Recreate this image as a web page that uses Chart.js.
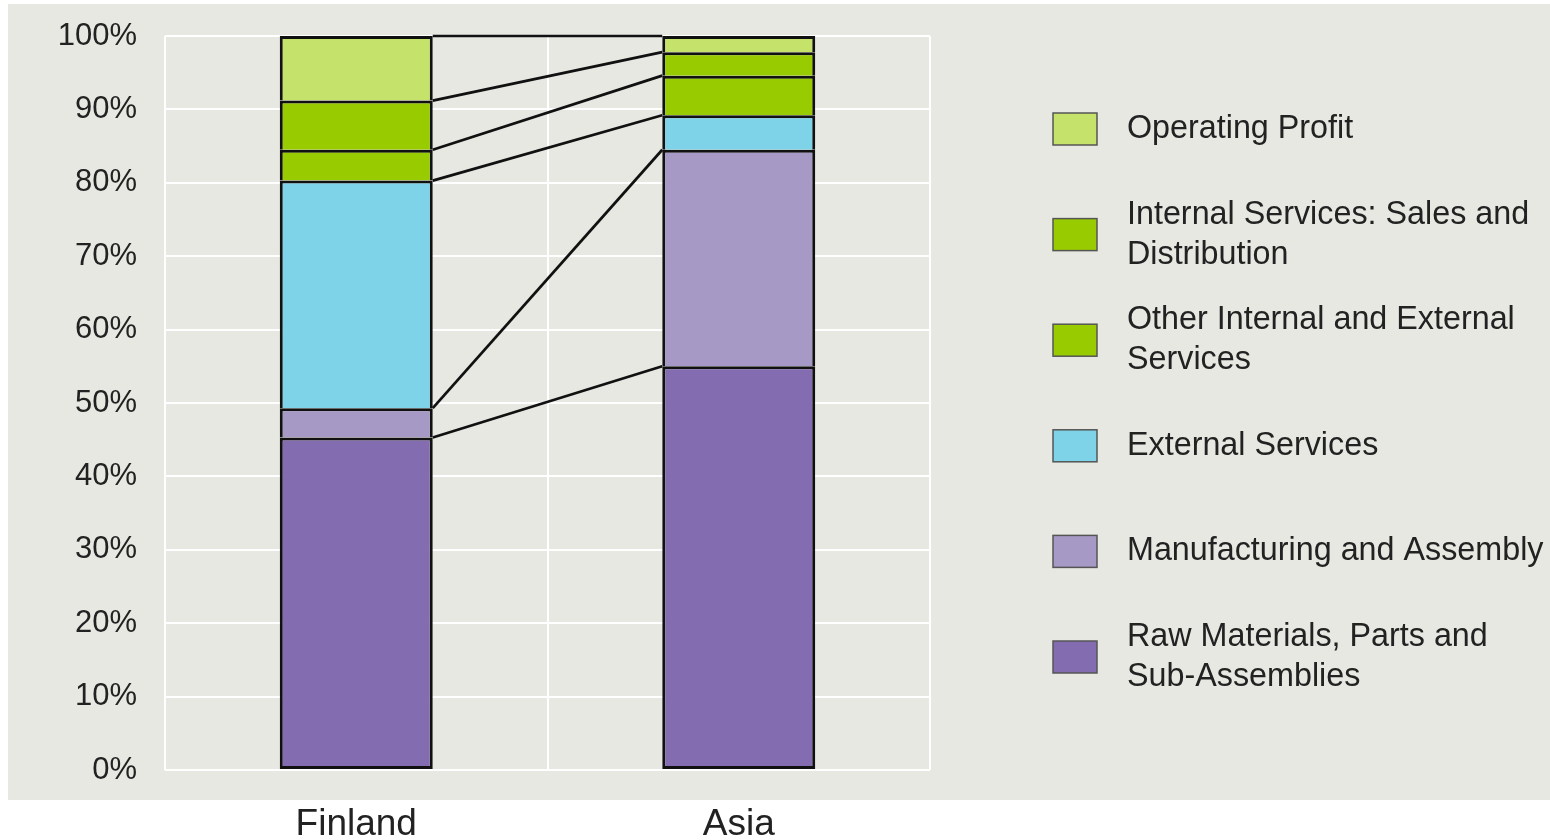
<!DOCTYPE html>
<html>
<head>
<meta charset="utf-8">
<script src="https://cdn.jsdelivr.net/npm/chart.js@4/dist/chart.umd.min.js"></script>
<style>
  html, body { margin: 0; padding: 0; background: #ffffff; }
  #wrap { width: 1550px; height: 840px; position: relative; }
</style>
</head>
<body>
<div id="wrap"><canvas id="c" width="1550" height="840"></canvas></div>
<script>
const categories = ['Finland', 'Asia'];
const yTickValues = [0, 10, 20, 30, 40, 50, 60, 70, 80, 90, 100];

// stack order bottom -> top
const rawMaterials     = [45.3, 55.0];
const manufacturing    = [4.0, 29.5];
const externalServices = [31.0, 4.7];
const otherServices    = [4.2, 5.4];
const internalSales    = [6.7, 3.2];
const operatingProfit  = [8.8, 2.2];

const seriesNames = [
  ['Raw Materials, Parts and', 'Sub-Assemblies'],
  ['Manufacturing and Assembly'],
  ['External Services'],
  ['Other Internal and External', 'Services'],
  ['Internal Services: Sales and', 'Distribution'],
  ['Operating Profit']
];
const seriesColors = ['#836db0', '#a699c5', '#7fd3e8', '#99cc00', '#99cc00', '#c5e26a'];
const seriesValues = [rawMaterials, manufacturing, externalServices, otherServices, internalSales, operatingProfit];

const FONT = '"Liberation Sans", Arial, sans-serif';
const TEXT = '#222222';

const bgPlugin = {
  id: 'bg',
  beforeDraw(chart) {
    const ctx = chart.ctx;
    ctx.save();
    ctx.fillStyle = '#ffffff';
    ctx.fillRect(0, 0, chart.width, chart.height);
    ctx.fillStyle = '#e8e8e3';
    ctx.fillRect(8, 4, chart.width - 8, 796);
    ctx.restore();
  }
};

const connectorPlugin = {
  id: 'connectors',
  afterDatasetsDraw(chart) {
    const ctx = chart.ctx;
    ctx.save();
    ctx.strokeStyle = '#111111';
    ctx.lineWidth = 2.7;
    chart.data.datasets.forEach((ds, i) => {
      const meta = chart.getDatasetMeta(i);
      const a = meta.data[0], b = meta.data[1];
      ctx.beginPath();
      ctx.moveTo(a.x + a.width / 2, a.y);
      ctx.lineTo(b.x - b.width / 2, b.y);
      ctx.stroke();
    });
    ctx.restore();
  }
};

const legendPlugin = {
  id: 'customLegend',
  afterDraw(chart) {
    const ctx = chart.ctx;
    const area = chart.chartArea;
    const boxX = area.right + 123;
    const textX = area.right + 197;
    const startY = 129;
    const step = 105.6;
    const lineGap = 40;
    ctx.save();
    ctx.font = '32.3px ' + FONT;
    ctx.textBaseline = 'middle';
    ctx.textAlign = 'left';
    const n = seriesNames.length;
    for (let k = 0; k < n; k++) {
      const idx = n - 1 - k;
      const cy = startY + k * step;
      ctx.fillStyle = seriesColors[idx];
      ctx.fillRect(boxX, cy - 16, 44, 32);
      ctx.strokeStyle = '#555555';
      ctx.lineWidth = 1.5;
      ctx.strokeRect(boxX, cy - 16, 44, 32);
      const lines = seriesNames[idx];
      ctx.fillStyle = TEXT;
      const top = cy - (lines.length - 1) * lineGap / 2;
      lines.forEach((t, j) => ctx.fillText(t, textX, top + j * lineGap));
    }
    ctx.restore();
  }
};

const datasets = seriesValues.map((vals, i) => ({
  label: seriesNames[i].join(' '),
  data: vals,
  backgroundColor: seriesColors[i],
  borderColor: '#111111',
  borderWidth: 3,
  borderSkipped: i === 0 ? false : 'start',
  categoryPercentage: 1.0,
  barPercentage: 0.4
}));

new Chart(document.getElementById('c'), {
  type: 'bar',
  data: { labels: categories, datasets },
  options: {
    responsive: false,
    animation: false,
    layout: { padding: { top: 36, right: 620, left: 0, bottom: 0 } },
    plugins: { legend: { display: false }, tooltip: { enabled: false } },
    scales: {
      x: {
        stacked: true,
        offset: true,
        grid: { offset: true, color: '#ffffff', lineWidth: 2, drawTicks: false },
        border: { display: false },
        ticks: { color: TEXT, font: { family: FONT, size: 37 }, padding: 33 },
        afterFit(scale) { scale.height = 70; scale.paddingLeft = 0; scale.paddingRight = 0; }
      },
      y: {
        stacked: true,
        min: 0,
        max: 100,
        afterBuildTicks(scale) { scale.ticks = yTickValues.map(v => ({ value: v })); },
        grid: { color: '#ffffff', lineWidth: 2, drawTicks: false },
        border: { display: false },
        ticks: { color: TEXT, font: { family: FONT, size: 31 }, padding: 28, callback: v => v + '%' },
        afterFit(scale) { scale.width = 165; scale.paddingTop = 0; scale.paddingBottom = 0; }
      }
    }
  },
  plugins: [bgPlugin, connectorPlugin, legendPlugin]
});
</script>
</body>
</html>
